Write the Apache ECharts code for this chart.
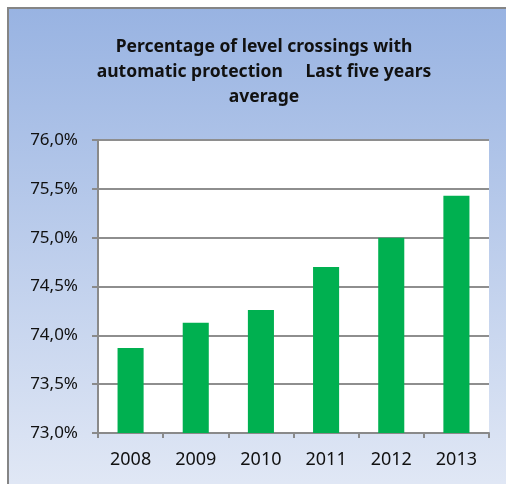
<!DOCTYPE html>
<html>
<head>
<meta charset="utf-8">
<script src="https://cdn.jsdelivr.net/npm/echarts@6/dist/echarts.min.js"></script>
<style>
  html, body { margin: 0; padding: 0; background: #fff; overflow: hidden; }
  #chart { width: 506px; height: 484px; }
</style>
</head>
<body>
<div id="chart"></div>
<script>
const years = ['2008', '2009', '2010', '2011', '2012', '2013']
const shareAuto = [73.87, 74.13, 74.26, 74.70, 75.00, 75.43]
const titleLines = [
  'Percentage of level crossings with',
  'automatic protection     Last five years',
  'average'
]

const chart = echarts.init(document.getElementById('chart'))

const axisGray = '#8a8a8a'
const fontFamily = '"Noto Sans", "DejaVu Sans", sans-serif'

chart.setOption({
  backgroundColor: '#fff',
  animation: false,
  graphic: [
    {
      type: 'rect',
      z: -10,
      silent: true,
      shape: { x: 8, y: 8, width: 520, height: 500 },
      style: {
        fill: new echarts.graphic.LinearGradient(0, 0, 0, 1, [
          { offset: 0, color: '#98b3e2' },
          { offset: 1, color: '#e4eaf6' }
        ]),
        stroke: '#858585',
        lineWidth: 2
      }
    }
  ],
  title: {
    text: titleLines.join('\n'),
    left: 259,
    top: 30,
    textAlign: 'center',
    textStyle: {
      fontFamily,
      fontSize: 17.5,
      fontWeight: 'bold',
      color: '#111',
      lineHeight: 25
    }
  },
  grid: {
    left: 98,
    top: 140,
    right: 17,
    bottom: 51,
    show: true,
    backgroundColor: '#fff',
    borderWidth: 0
  },
  xAxis: {
    type: 'category',
    data: years,
    axisLine: { lineStyle: { color: axisGray, width: 2 } },
    axisTick: { show: true, length: 5, interval: 0, lineStyle: { color: axisGray, width: 2 } },
    axisLabel: { margin: 18, fontFamily, fontSize: 18, color: '#111' }
  },
  yAxis: {
    type: 'value',
    min: 73,
    max: 76,
    interval: 0.5,
    axisLine: { show: true, lineStyle: { color: axisGray, width: 2 } },
    axisTick: { show: true, length: 6, lineStyle: { color: axisGray, width: 2 } },
    splitLine: { lineStyle: { color: '#8e8e8e', width: 2 } },
    axisLabel: {
      margin: 20,
      fontFamily,
      fontSize: 17,
      color: '#111',
      formatter: v => v.toFixed(1).replace('.', ',') + '%'
    }
  },
  series: [
    {
      type: 'bar',
      data: shareAuto,
      barWidth: '40%',
      itemStyle: { color: '#00b050' }
    }
  ]
})
</script>
</body>
</html>
